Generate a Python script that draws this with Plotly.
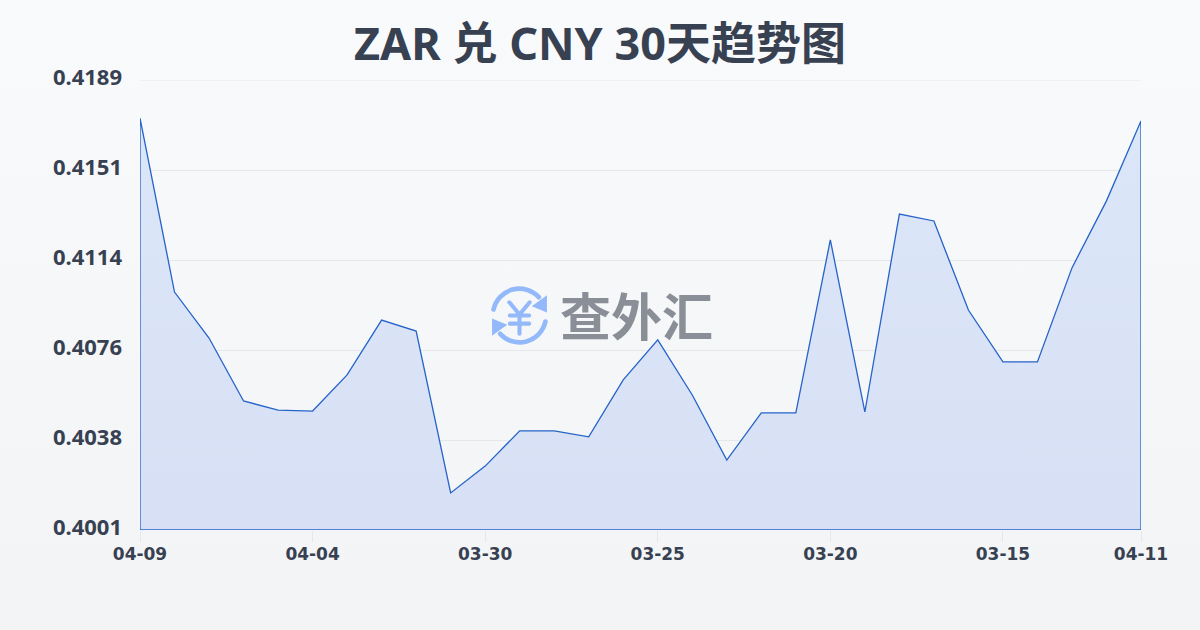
import base64
import plotly.graph_objects as go

TITLE = "ZAR 兑 CNY 30天趋势图"
WATERMARK = "查外汇"
dates = ["04-09", "04-08", "04-07", "04-06", "04-05", "04-04", "04-03", "04-02", "04-01", "03-31",
         "03-30", "03-29", "03-28", "03-27", "03-26", "03-25", "03-24", "03-23", "03-22", "03-21",
         "03-20", "03-19", "03-18", "03-17", "03-16", "03-15", "03-14", "03-13", "03-12", "04-11"]
rates = [0.41731, 0.41004, 0.40812, 0.40549, 0.40511, 0.40507, 0.40658, 0.40887, 0.40841, 0.40165,
         0.40277, 0.40424, 0.40424, 0.40399, 0.40637, 0.40804, 0.40574, 0.40302, 0.40499, 0.40499,
         0.41222, 0.40503, 0.41330, 0.41301, 0.40929, 0.40712, 0.40712, 0.41105, 0.41385, 0.41719]
y_ticks = [0.4001, 0.40386, 0.40762, 0.41138, 0.41514, 0.4189]
y_labels = ["0.4001", "0.4038", "0.4076", "0.4114", "0.4151", "0.4189"]
x_ticks = ["04-09", "04-04", "03-30", "03-25", "03-20", "03-15", "04-11"]
y_min, y_max = 0.4001, 0.4189

FONT = "'Noto Sans', 'Noto Sans CJK SC', sans-serif"
CJK = "'Noto Sans CJK SC', sans-serif"
XFONT = "'DejaVu Sans', sans-serif"
INK = "#374151"
GRID = "#e5e7eb"
LINE = "#2563c9"


def svg_uri(svg):
    return "data:image/svg+xml;base64," + base64.b64encode(svg.encode()).decode()


bg_svg = """<svg xmlns='http://www.w3.org/2000/svg' width='1200' height='630' preserveAspectRatio='none'>
<defs><linearGradient id='g' x1='0' y1='0' x2='0' y2='1'>
<stop offset='0' stop-color='#f9fafc'/><stop offset='1' stop-color='#f3f4f6'/></linearGradient></defs>
<rect width='1200' height='630' fill='url(#g)'/></svg>"""

icon_svg = """<svg xmlns='http://www.w3.org/2000/svg' viewBox='0 0 60 60' width='240' height='240'>
<g fill='none' stroke='#93b9fb' stroke-width='4.6' stroke-linecap='round' stroke-linejoin='round'>
<path d='M4.5 24 A26 26 0 0 1 49 12'/>
<path d='M55.5 36 A26 26 0 0 1 11 48'/>
<path d='M20 17 L30 29 L40 17 M20.5 30 H39.5 M20.5 38 H39.5 M30 29 V48' stroke-width='4'/>
</g>
<g fill='#93b9fb'>
<path d='M57 10 L57 27 L42 21 Z'/>
<path d='M3 50 L3 33 L18 39 Z'/>
</g></svg>"""

x_closed = [dates[0]] + dates + [dates[-1], dates[0]]
y_closed = [y_min] + rates + [y_min, y_min]

fig = go.Figure(go.Scatter(
    x=x_closed, y=y_closed, mode="lines", fill="toself", cliponaxis=False,
    line=dict(color=LINE, width=1.3),
    fillgradient=dict(type="vertical",
                      colorscale=[[0, "#d7e0f4"], [1, "#dce6f9"]]),
    hoverinfo="skip", showlegend=False,
))

fig.update_layout(
    width=1200, height=630,
    margin=dict(l=140, r=59, t=80, b=100),
    paper_bgcolor="#f6f7f9", plot_bgcolor="rgba(0,0,0,0)",
    font=dict(family=FONT, color=INK),
    title=dict(text=TITLE, x=0.5, xanchor="center", y=0.929, yanchor="middle",
               font=dict(size=45, family=FONT, color=INK, weight=700)),
    xaxis=dict(type="category", categoryorder="array", categoryarray=dates,
               range=[0, len(dates) - 1], tickvals=x_ticks, ticktext=x_ticks,
               ticks="outside", ticklen=11, tickcolor=GRID, tickwidth=1,
               showgrid=False, showline=False, zeroline=False,
               tickangle=0, ticklabelstandoff=-2,
               tickfont=dict(size=17, family=XFONT, color=INK, weight=700)),
    yaxis=dict(range=[y_min, y_max], tickvals=y_ticks, ticktext=y_labels,
               gridcolor=GRID, gridwidth=1, showline=False, zeroline=False,
               ticks="", ticklabelstandoff=17, ticklabelshift=-3,
               tickfont=dict(size=22, family=FONT, color=INK, weight=700)),
    shapes=[dict(type="line", xref="paper", x0=0, x1=1, yref="y",
                 y0=y_ticks[-1], y1=y_ticks[-1], layer="below",
                 line=dict(color=GRID, width=1))],
    images=[
        dict(source=svg_uri(bg_svg), xref="paper", yref="paper",
             x=-140 / 1001, y=1 + 80 / 450, sizex=1200 / 1001, sizey=630 / 450,
             sizing="stretch", layer="below", xanchor="left", yanchor="top"),
        dict(source=svg_uri(icon_svg), xref="paper", yref="paper",
             x=(489 - 140) / 1001, y=1 - (285 - 80) / 450, sizex=61 / 1001, sizey=61 / 450,
             sizing="stretch", layer="above", xanchor="left", yanchor="top"),
    ],
    annotations=[dict(text=WATERMARK, xref="paper", yref="paper",
                      x=(636 - 140) / 1001, y=1 - (314 - 80) / 450,
                      xanchor="center", yanchor="middle", showarrow=False,
                      font=dict(size=51, family=CJK, color="#8a8e96", weight=700))],
)

fig.write_html("out.html", config={"displayModeBar": False},
               post_script="document.body.style.margin='0';")
